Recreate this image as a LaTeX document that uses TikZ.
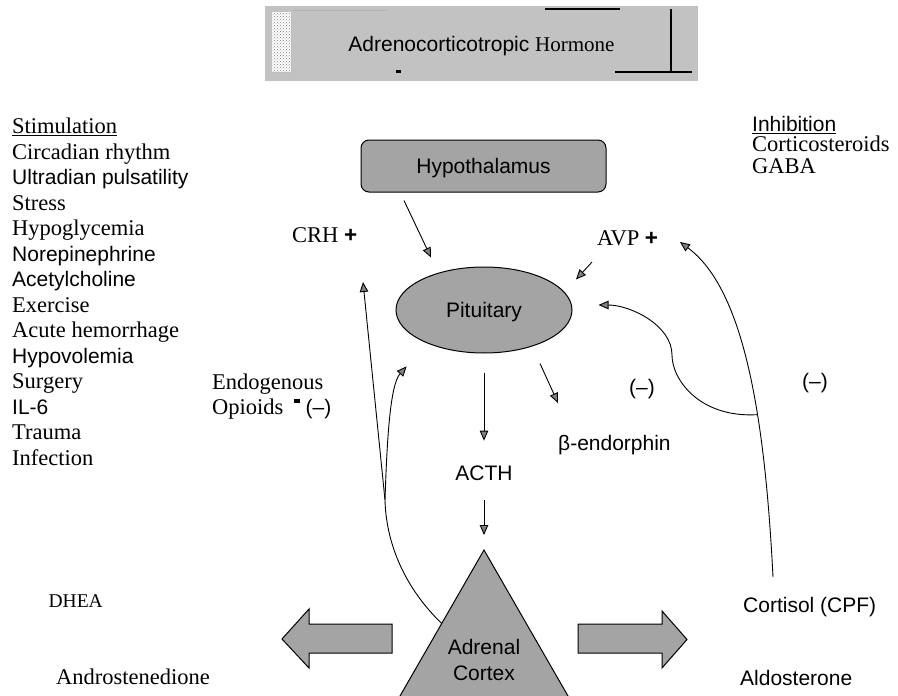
\documentclass[tikz,border=0pt]{standalone}
\usepackage{fontspec}
\setmainfont{Liberation Serif}
\setsansfont{Liberation Sans}
\usetikzlibrary{arrows.meta,calc,patterns,positioning,shapes.geometric}
\definecolor{titlegray}{HTML}{C2C2C2}
\definecolor{organgray}{HTML}{A4A4A4}
\tikzset{
  serif text/.style={font=\rmfamily\fontsize{22.5}{27}\selectfont, inner sep=0pt},
  sans text/.style={font=\sffamily\fontsize{21}{26}\selectfont, inner sep=0pt},
  organ/.style={draw, line width=1pt, fill=organgray, font=\sffamily\fontsize{21}{26}\selectfont, text height=15pt, text depth=0pt},
  feed/.style={line width=0.9pt, -{Triangle[length=10pt,width=8.5pt,fill=gray]}},
  big arrow/.style={draw, line width=1pt, fill=organgray},
}

\begin{document}
\begin{tikzpicture}[x=1pt,y=-1pt]
  \useasboundingbox (0,0) rectangle (898,696);

  % Title bar
  \node[fill=titlegray, minimum width=433pt, minimum height=75pt, sans text, text height=15pt, text depth=0pt] (title) at (481.5,43.5) {Adrenocorticotropic {\rmfamily Hormone}};
  \fill[white] (272,12) rectangle (291,72);
  \fill[pattern=crosshatch dots, pattern color=gray] (272,12) rectangle (291,72);
  \draw[line width=1.8pt] (671,9) -- (671,72);
  \draw[line width=1.4pt] (615,72) -- (692,72);
  \draw[line width=1.4pt] (545,9) -- (620,9);
  \draw[gray!60, line width=0.6pt] (293,10) -- (387,10);
  \fill (396,70) rectangle (401,73);

  % Stimulation and inhibition lists
  \foreach \lbl/\sty [count=\i from 0] in {{\underline{Stimulation}}/serif text, {Circadian rhythm}/serif text, {Ultradian pulsatility}/sans text, Stress/serif text, Hypoglycemia/serif text, Norepinephrine/sans text, Acetylcholine/sans text, Exercise/serif text, {Acute hemorrhage}/serif text, Hypovolemia/sans text, Surgery/serif text, IL-6/sans text, Trauma/serif text, Infection/serif text}
    \node[\sty, anchor=base west] (stim\i) at (12,{133.5+25.5*\i}) {\lbl};
  \node[sans text, anchor=base west] (inhib) at (752,131.5) {\underline{Inhibition}};
  \node[serif text, anchor=base west] (cortico) at (752,151.5) {Corticosteroids};
  \node[serif text, anchor=base west] (gaba) at (752,173.5) {GABA};

  % Axis organs
  \node[organ, rounded corners=8pt, minimum width=245pt, minimum height=52pt] (hyp) at (483.5,166) {Hypothalamus};
  \node[organ, ellipse, minimum width=176pt, minimum height=86pt] (pit) at (484,310) {Pituitary};

  % Hormone labels
  \node[serif text, anchor=base west] (crh) at (292,242.5) {CRH {\sffamily\bfseries +}};
  \node[serif text, anchor=base west] (avp) at (597,245.5) {AVP {\sffamily\bfseries +}};
  \node[serif text, anchor=base west] (endo) at (212,389.5) {Endogenous};
  \node[serif text, anchor=base west] (opio) at (212,414.5) {Opioids\hspace{0.45em}\rule[0.5em]{0.27em}{0.2em}\hspace{0.27em}{\sffamily\fontsize{21}{26}\selectfont(--)}};
  \node[sans text, anchor=base] (acth) at (484,480.5) {ACTH};
  \node[sans text, anchor=base west] (beta) at (558,450.5) {β-endorphin};
  \node[sans text, anchor=base] (negpit) at (642,394.5) {(--)};
  \node[sans text, anchor=base] (negavp) at (815,388.5) {(--)};

  % Adrenal cortex and its outputs
  \coordinate (apex) at (484,550);
  \coordinate (baseL) at (397.7,700);
  \coordinate (baseR) at (570.3,700);
  \filldraw[big arrow] (apex) -- (baseL) -- (baseR) -- cycle;
  \node[sans text, align=center] (adrenal) at (484,660) {Adrenal\\Cortex};
  \filldraw[big arrow] (392,624) -- (309,624) -- (309,609) -- (282,639) -- (309,668) -- (309,653) -- (392,653) -- cycle;
  \filldraw[big arrow] (578,624) -- (662,624) -- (662,611) -- (687,639.5) -- (662,668) -- (662,653) -- (578,653) -- cycle;
  \node[font=\rmfamily\fontsize{19.5}{24}\selectfont, inner sep=0pt, anchor=base east] (dhea) at (103,607) {DHEA};
  \node[serif text, anchor=base west] (andro) at (56,684.5) {Androstenedione};
  \node[sans text, anchor=base west] (cortisol) at (743,612.5) {Cortisol (CPF)};
  \node[sans text, anchor=base west] (aldo) at (740,685.5) {Aldosterone};

  % Stimulatory arrows
  \draw[feed] ($(hyp.south)+(-79.5,8)$) -- ($(pit.north)+(-53,-9)$);
  \draw[feed] ($(avp.base west)+(-5,16.5)$) -- ($(pit.north)+(92,13)$);
  \draw[feed, shorten <=19pt, shorten >=25pt] (pit) -- (acth);
  \draw[feed] ($(pit.south)+(56,10)$) -- ($(beta.base west)+(0,-47.5)$);
  \draw[feed, shorten <=19.5pt, shorten >=15pt] (acth) -- (apex);

  % Feedback loops
  \draw[feed] ($(cortisol.base west)+(30,-35.5)$) .. controls (765,420) and (745,290) .. ($(avp.base west)+(83,-3.5)$) coordinate[pos=0.375] (rjoin);
  \draw[feed] (rjoin) .. controls (700,418) and (672,380) .. (672,355) .. controls (672,325) and (630,305) .. ($(pit.east)+(26,-5)$);
  \coordinate (lsplit) at (385,500);
  \draw[feed] ($(apex)!0.49!(baseL)$) .. controls (402,585) and (386,540) .. (lsplit) -- ($(crh.base west)+(71,39.5)$);
  \draw[feed] (lsplit) .. controls (387,440) and (390,385) .. ($(pit.south west)+(-14.8,25.6)$);
\end{tikzpicture}
\end{document}
